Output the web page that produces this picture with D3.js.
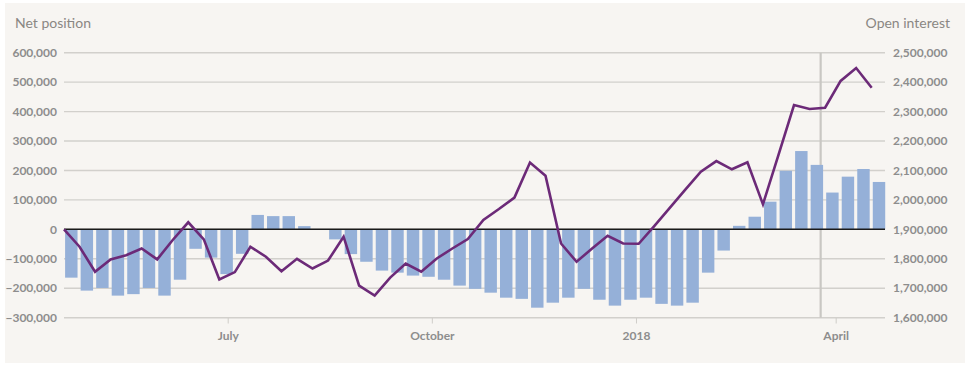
<!DOCTYPE html>
<html><head><meta charset="utf-8">
<script src="https://cdn.jsdelivr.net/npm/d3@7"></script>
<style>body{margin:0;background:#fff}svg{display:block}</style>
</head><body>
<svg id="c" width="971" height="368"></svg>
<script>
const weekDates = [
"2017-04-18","2017-04-25","2017-05-02","2017-05-09","2017-05-16","2017-05-23","2017-05-30",
"2017-06-06","2017-06-13","2017-06-20","2017-06-27","2017-07-04","2017-07-11","2017-07-18",
"2017-07-25","2017-08-01","2017-08-08","2017-08-15","2017-08-22","2017-08-29","2017-09-05",
"2017-09-12","2017-09-19","2017-09-26","2017-10-03","2017-10-10","2017-10-17","2017-10-24",
"2017-10-31","2017-11-07","2017-11-14","2017-11-21","2017-11-28","2017-12-05","2017-12-12",
"2017-12-19","2017-12-26","2018-01-02","2018-01-09","2018-01-16","2018-01-23","2018-01-30",
"2018-02-06","2018-02-13","2018-02-20","2018-02-27","2018-03-06","2018-03-13","2018-03-20",
"2018-03-27","2018-04-03","2018-04-10","2018-04-17"];
const netPosition = [
-164000,-208000,-199000,-225000,-220000,-199000,-225000,-171000,-66000,-96000,
-152000,-83000,49000,45000,45000,11000,0,-34000,-84000,-110000,
-140000,-147000,-157000,-161000,-171000,-191000,-202000,-215000,-232000,-236000,
-266000,-249000,-232000,-202000,-239000,-259000,-239000,-232000,-253000,-259000,
-249000,-147000,-72000,12000,43000,94000,199000,266000,219000,125000,
179000,205000,161000];
const openInterest = [
1900000,1841000,1756000,1798000,1812000,1835000,1798000,1864000,1924000,1866000,
1730000,1755000,1841000,1807000,1758000,1800000,1767000,1794000,1875000,1709000,
1675000,1736000,1784000,1756000,1801000,1835000,1867000,1932000,1969000,2008000,
2127000,2082000,1852000,1790000,1835000,1878000,1852000,1851000,1911000,1973000,
2035000,2096000,2132000,2104000,2128000,1985000,2153000,2322000,2309000,2313000,
2404000,2448000,2381000];
const leftTicks = [-300000,-200000,-100000,0,100000,200000,300000,400000,500000,600000];
const rightTicks = [1600000,1700000,1800000,1900000,2000000,2100000,2200000,2300000,2400000,2500000];
const monthTicks = ["2017-07-01","2017-10-01","2018-01-01","2018-04-01"];
const monthLabels = ["July","October","2018","April"];
const markerDate = "2018-03-25";
const domainEnd = "2018-04-23";
const leftTitle = "Net position";
const rightTitle = "Open interest";

const parse = d3.utcParse("%Y-%m-%d");
const dates = weekDates.map(parse);
const data = dates.map((d,i)=>({date:d, net:netPosition[i], oi:openInterest[i]}));

const svg = d3.select("#c");
const font = "Lato, 'Open Sans', sans-serif";
const txt = "#8d8d8d";

svg.append("rect").attr("x",5).attr("y",3).attr("width",960).attr("height",360).attr("fill","#f7f5f2");

const x = d3.scaleUtc().domain([dates[0], parse(domainEnd)]).range([64,885]);
const yL = d3.scaleLinear().domain([-300000,600000]).range([317.7,52.7]);
const yR = d3.scaleLinear().domain([1600000,2500000]).range([317.7,52.7]);
const fmt = d3.format(",");

// grid
svg.append("g").selectAll("line").data(leftTicks).join("line")
  .attr("x1",64).attr("x2",885).attr("y1",d=>yL(d)).attr("y2",d=>yL(d))
  .attr("stroke","#d2d0cc").attr("stroke-width",1.4);

// left axis labels
svg.append("g").selectAll("text").data(leftTicks).join("text")
  .attr("x",57).attr("y",d=>yL(d)).attr("dy","0.35em").attr("text-anchor","end")
  .attr("font-family",font).attr("font-weight","bold").attr("font-size",12).attr("fill",txt)
  .text(d=>fmt(d));
// right axis labels
svg.append("g").selectAll("text").data(rightTicks).join("text")
  .attr("x",893).attr("y",d=>yR(d)).attr("dy","0.35em").attr("text-anchor","start")
  .attr("font-family",font).attr("font-weight","bold").attr("font-size",12).attr("fill",txt)
  .text(d=>fmt(d));

// titles
svg.append("text").attr("x",15).attr("y",28).attr("font-family",font).attr("font-size",14)
  .attr("fill","#8a8783").text(leftTitle);
svg.append("text").attr("x",950).attr("y",28).attr("text-anchor","end").attr("font-family",font)
  .attr("font-size",14).attr("fill","#8a8783").text(rightTitle);

// x ticks and labels
const mt = monthTicks.map(parse);
svg.append("g").selectAll("line").data(mt).join("line")
  .attr("x1",d=>x(d)).attr("x2",d=>x(d)).attr("y1",318).attr("y2",323.5)
  .attr("stroke","#cfcdc9").attr("stroke-width",1);
svg.append("g").selectAll("text").data(mt).join("text")
  .attr("x",d=>x(d)).attr("y",340).attr("text-anchor","middle")
  .attr("font-family",font).attr("font-weight","bold").attr("font-size",12).attr("fill",txt)
  .text((d,i)=>monthLabels[i]);

// marker line
const mx = x(parse(markerDate));
svg.append("line").attr("x1",mx).attr("x2",mx).attr("y1",yL(600000)).attr("y2",yL(-300000))
  .attr("stroke","#c9c7c3").attr("stroke-width",2.2);

// bars
const step = x(d3.utcDay.offset(dates[0],7)) - x(dates[0]);
svg.append("g").selectAll("rect").data(data).join("rect")
  .attr("x",d=>x(d.date)+1.1).attr("width",step-3.1)
  .attr("y",d=>yL(Math.max(0,d.net))).attr("height",d=>Math.abs(yL(d.net)-yL(0)))
  .attr("fill","#95b0d8");

// zero line
svg.append("line").attr("x1",64).attr("x2",885).attr("y1",yL(0)).attr("y2",yL(0))
  .attr("stroke","#1a1a1a").attr("stroke-width",1.5);

// open interest line
svg.append("path").datum(data)
  .attr("d",d3.line().x(d=>x(d.date)).y(d=>yR(d.oi)))
  .attr("fill","none").attr("stroke","#6c2a78").attr("stroke-width",2.6).attr("stroke-linejoin","miter");
</script>
</body></html>
